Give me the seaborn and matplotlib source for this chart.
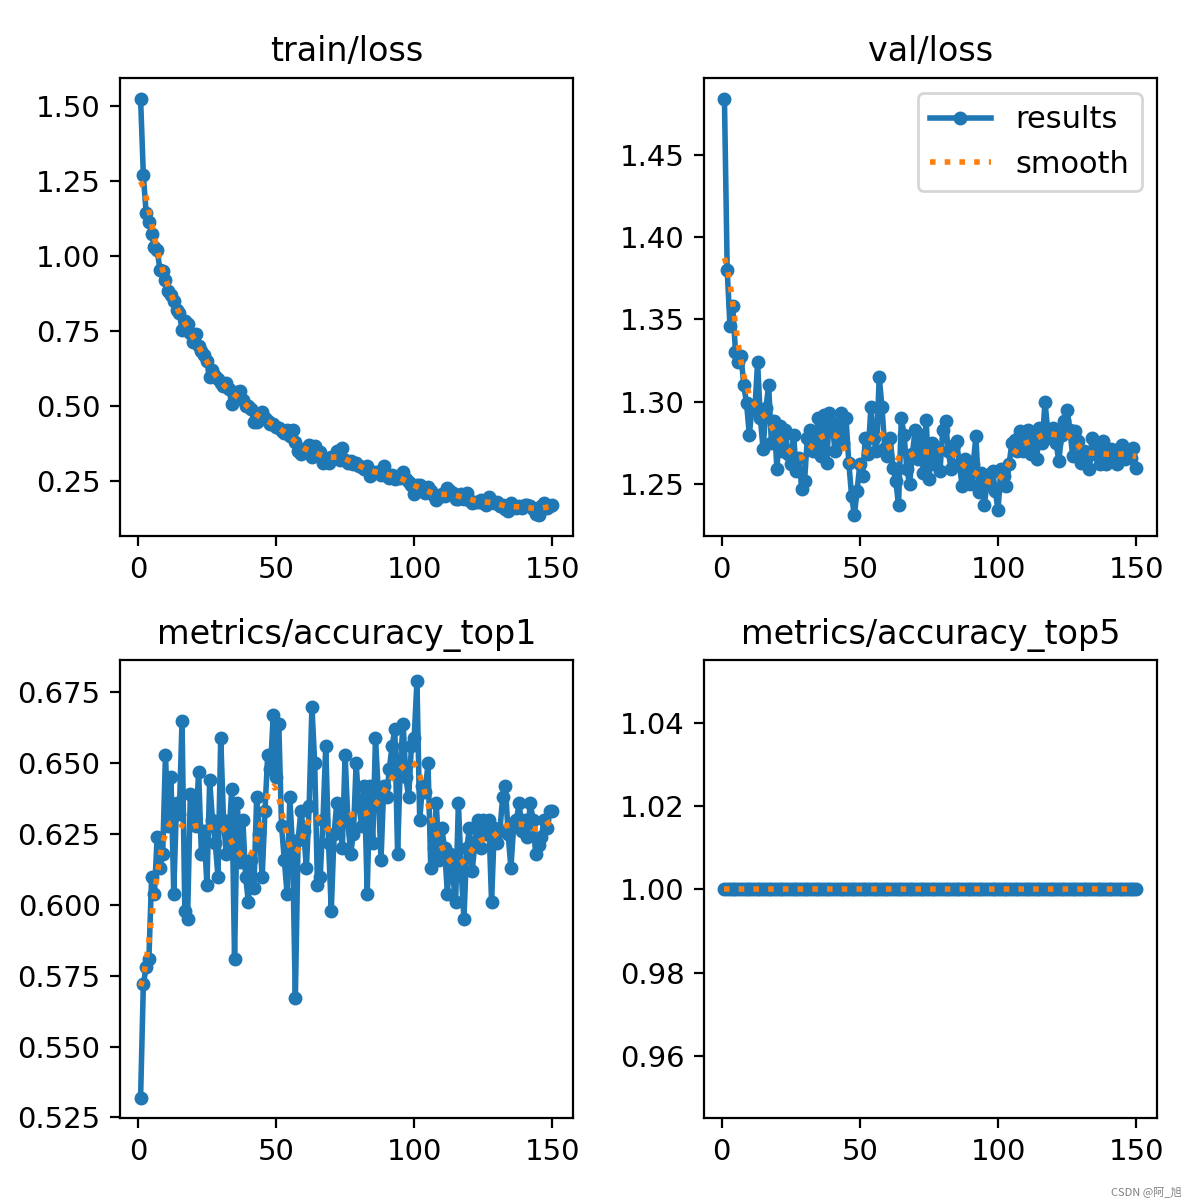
import numpy as np
import matplotlib
matplotlib.use("Agg")
import matplotlib.pyplot as plt
from matplotlib.ticker import MultipleLocator
import seaborn as sns

epochs = list(range(1, 151))

train_loss = [
    1.525, 1.27, 1.145, 1.115, 1.075, 1.03, 1.02, 0.955, 0.95, 0.92,
    0.885, 0.87, 0.85, 0.82, 0.81, 0.755, 0.785, 0.775, 0.745, 0.715,
    0.74, 0.70, 0.685, 0.67, 0.65, 0.595, 0.62, 0.60, 0.59, 0.575,
    0.565, 0.575, 0.555, 0.505, 0.53, 0.545, 0.55, 0.52, 0.50, 0.50,
    0.49, 0.445, 0.445, 0.47, 0.48, 0.46, 0.45, 0.44, 0.44, 0.43,
    0.425, 0.415, 0.41, 0.42, 0.40, 0.42, 0.38, 0.35, 0.34, 0.355,
    0.345, 0.37, 0.33, 0.365, 0.35, 0.345, 0.31, 0.32, 0.31, 0.33,
    0.33, 0.35, 0.32, 0.36, 0.32, 0.31, 0.315, 0.305, 0.31, 0.30,
    0.295, 0.29, 0.30, 0.265, 0.275, 0.28, 0.28, 0.27, 0.30, 0.265,
    0.26, 0.27, 0.255, 0.265, 0.26, 0.28, 0.255, 0.245, 0.235, 0.205,
    0.235, 0.235, 0.225, 0.21, 0.23, 0.215, 0.20, 0.185, 0.195, 0.205,
    0.20, 0.225, 0.215, 0.21, 0.19, 0.19, 0.205, 0.19, 0.21, 0.185,
    0.175, 0.18, 0.18, 0.185, 0.175, 0.17, 0.195, 0.18, 0.175, 0.18,
    0.165, 0.17, 0.155, 0.15, 0.175, 0.165, 0.16, 0.165, 0.16, 0.17,
    0.17, 0.165, 0.155, 0.14, 0.135, 0.165, 0.175, 0.16, 0.165, 0.17,
]

val_loss = [
    1.484, 1.380, 1.346, 1.358, 1.330, 1.324, 1.328, 1.310, 1.299, 1.280,
    1.297, 1.295, 1.324, 1.290, 1.271, 1.296, 1.310, 1.275, 1.288, 1.259,
    1.285, 1.270, 1.283, 1.268, 1.262, 1.280, 1.258, 1.266, 1.247, 1.252,
    1.278, 1.283, 1.270, 1.277, 1.290, 1.267, 1.292, 1.263, 1.293, 1.287,
    1.270, 1.280, 1.293, 1.275, 1.290, 1.263, 1.243, 1.231, 1.246, 1.262,
    1.255, 1.278, 1.268, 1.297, 1.278, 1.270, 1.315, 1.297, 1.272, 1.267,
    1.278, 1.260, 1.252, 1.237, 1.290, 1.280, 1.259, 1.250, 1.268, 1.283,
    1.265, 1.280, 1.257, 1.289, 1.253, 1.275, 1.262, 1.270, 1.258, 1.283,
    1.288, 1.270, 1.259, 1.274, 1.276, 1.262, 1.249, 1.265, 1.255, 1.250,
    1.262, 1.279, 1.245, 1.257, 1.237, 1.250, 1.256, 1.258, 1.246, 1.234,
    1.259, 1.255, 1.249, 1.262, 1.275, 1.277, 1.270, 1.282, 1.270, 1.276,
    1.283, 1.268, 1.278, 1.265, 1.284, 1.275, 1.300, 1.282, 1.278, 1.284,
    1.275, 1.264, 1.280, 1.288, 1.295, 1.283, 1.267, 1.282, 1.276, 1.263,
    1.270, 1.265, 1.259, 1.278, 1.268, 1.274, 1.262, 1.276, 1.262, 1.266,
    1.271, 1.268, 1.262, 1.272, 1.274, 1.265, 1.270, 1.266, 1.272, 1.260,
]

top1 = [
    0.532, 0.572, 0.578, 0.581, 0.610, 0.604, 0.624, 0.613, 0.618, 0.653,
    0.628, 0.645, 0.604, 0.636, 0.632, 0.665, 0.598, 0.595, 0.639, 0.638,
    0.628, 0.647, 0.618, 0.626, 0.607, 0.644, 0.630, 0.622, 0.610, 0.659,
    0.630, 0.618, 0.625, 0.641, 0.581, 0.636, 0.615, 0.630, 0.610, 0.601,
    0.616, 0.606, 0.638, 0.625, 0.610, 0.633, 0.653, 0.648, 0.667, 0.645,
    0.664, 0.628, 0.616, 0.604, 0.638, 0.620, 0.567, 0.623, 0.633, 0.626,
    0.613, 0.635, 0.670, 0.650, 0.607, 0.610, 0.630, 0.656, 0.622, 0.598,
    0.625, 0.636, 0.630, 0.620, 0.653, 0.630, 0.618, 0.625, 0.650, 0.635,
    0.628, 0.642, 0.604, 0.642, 0.622, 0.659, 0.640, 0.616, 0.642, 0.638,
    0.648, 0.656, 0.662, 0.618, 0.650, 0.664, 0.645, 0.638, 0.656, 0.659,
    0.679, 0.630, 0.642, 0.640, 0.650, 0.613, 0.620, 0.636, 0.616, 0.627,
    0.620, 0.604, 0.618, 0.610, 0.601, 0.636, 0.612, 0.595, 0.620, 0.627,
    0.612, 0.622, 0.630, 0.620, 0.630, 0.625, 0.630, 0.601, 0.627, 0.622,
    0.626, 0.638, 0.642, 0.625, 0.613, 0.628, 0.630, 0.636, 0.626, 0.630,
    0.624, 0.636, 0.630, 0.618, 0.621, 0.624, 0.630, 0.627, 0.633, 0.633,
]

top5 = [1.0] * 150

titles = ["train/loss", "val/loss", "metrics/accuracy_top1", "metrics/accuracy_top5"]


def gaussian_smooth(y, sigma=3.0, truncate=4.0):
    """Gaussian filter, same as scipy's gaussian_filter1d with reflect mode."""
    y = np.asarray(y, dtype=float)
    r = int(truncate * sigma + 0.5)
    k = np.exp(-0.5 * (np.arange(-r, r + 1) / sigma) ** 2)
    k /= k.sum()
    padded = np.pad(y, r, mode="symmetric")
    return np.convolve(padded, k, mode="valid")


fig, axes = plt.subplots(2, 2, figsize=(6, 6))
fig.subplots_adjust(left=0.100, right=0.964, top=0.935, bottom=0.068,
                    wspace=0.289, hspace=0.271)
axes = axes.ravel()

for ax, title, y in zip(axes, titles, [train_loss, val_loss, top1, top5]):
    sns.lineplot(x=epochs, y=y, marker=".", markersize=8, linewidth=2,
                 markeredgewidth=1, markeredgecolor="C0", color="C0",
                 label="results", ax=ax)
    sns.lineplot(x=epochs, y=gaussian_smooth(y), linestyle=":", linewidth=2,
                 color="C1", label="smooth", ax=ax)
    ax.set_title(title, fontsize=12)
    ax.set_xlabel("")
    ax.set_ylabel("")
    ax.tick_params(labelsize=10.5)
    if ax.get_legend() is not None:
        ax.get_legend().remove()

axes[0].yaxis.set_major_locator(MultipleLocator(0.25))
axes[1].legend(fontsize=11)

fig.text(0.985, 0.004, "CSDN @阿_旭", fontsize=4, color="gray", ha="right",
         family=["Noto Sans CJK SC", "DejaVu Sans"])

fig.savefig("out.png", dpi=200)
